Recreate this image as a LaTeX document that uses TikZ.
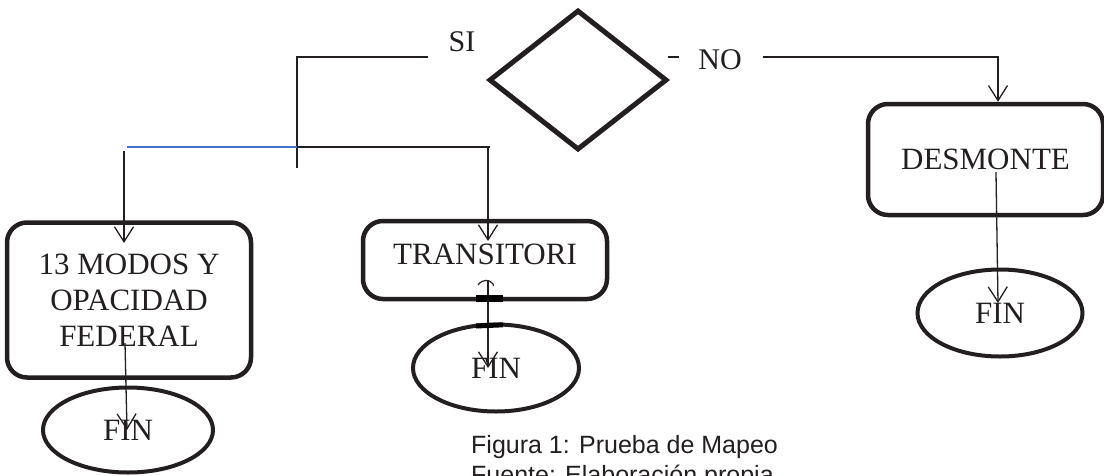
\documentclass[tikz,border=0pt]{standalone}
\usepackage{fontspec}
\setmainfont{Liberation Serif}
\newfontfamily\capfont{Liberation Sans}
\usetikzlibrary{shapes.geometric,arrows.meta}
\definecolor{busblue}{RGB}{68,114,196}
\definecolor{ink}{RGB}{35,31,32}
\begin{document}
\begin{tikzpicture}[x=1pt,y=-1pt,
  box/.style={draw=ink,line width=4.5pt,rounded corners=20pt,inner sep=0pt,text=ink,font=\fontsize{31}{36}\selectfont},
  finnode/.style={draw=ink,ellipse,line width=4pt,inner sep=0pt,text=ink,font=\fontsize{31}{36}\selectfont},
  conn/.style={draw=ink,line width=1.3pt},
  arr/.style={conn,-{Straight Barb[length=15pt,width=19pt,line width=1.3pt]}},
  lbl/.style={font=\fontsize{30}{36}\selectfont,inner sep=0pt,text=ink},
  caption/.style={font=\capfont\fontsize{25}{30}\selectfont,inner sep=0pt,text=ink,anchor=base west}]
\useasboundingbox (0,0) rectangle (1104,475);

% shapes
\node[draw=ink,diamond,line width=5pt,minimum width=178pt,minimum height=140pt,inner sep=0pt] (dec) at (578,80) {};
\node[box,align=center,minimum width=244pt,minimum height=155pt] (m13) at (129,300) {13 MODOS Y\\OPACIDAD\\FEDERAL};
\node[box,minimum width=244pt,minimum height=78pt,text depth=12pt] (tr) at (485,260) {TRANSITORI};
\node[box,minimum width=235pt,minimum height=111pt] (dm) at (985.5,159.5) {DESMONTE};
\node[finnode,minimum width=170pt,minimum height=85pt] (f1) at (128,430) {FIN};
\node[finnode,minimum width=166pt,minimum height=87pt] (f2) at (496,368) {FIN};
\node[finnode,minimum width=165pt,minimum height=87pt] (f3) at (1000,313) {FIN};

% labels
\node[lbl] (si) at (462,42) {SI};
\node[lbl] (no) at (720,60) {NO};
\node[caption] (cap1) at (471,453) {Figura 1: Prueba de Mapeo};
\node[caption] (cap2) at (471,483) {Fuente: Elaboración propia};

% SI branch
\coordinate (siA) at (428,57);
\coordinate (siB) at (297,57);
\coordinate (siC) at (297,168);
\draw[conn] (siA) -- (siB) -- (siC);
\coordinate (busL) at (127,147);
\coordinate (busM) at (297,147);
\coordinate (busR) at (490,147);
\draw[line width=1.3pt,busblue] (busL) -- (busM);
\draw[conn] (busM) -- (busR);
\coordinate (lA) at (124,151);
\coordinate (lB) at (124,243);
\draw[arr] (lA) -- (lB);
\coordinate (rA) at (488,147);
\coordinate (rB) at (488,241);
\draw[arr] (rA) -- (rB);

% NO branch
\coordinate (nd1) at (668,57);
\coordinate (nd2) at (679,57);
\draw[conn] (nd1) -- (nd2);
\coordinate (nA) at (763,57);
\coordinate (nB) at (998,57);
\draw[arr] (nA) -- (nB) -- (nB |- dm.north);

% to FIN
\coordinate (e1) at (125,343);
\coordinate (e1t) at (127,430);
\draw[arr] (e1) -- (e1t);
\coordinate (e2) at (488,280);
\coordinate (e2t) at (488,368);
\draw[arr] (e2) -- (e2t);
\coordinate (e3) at (996,172);
\coordinate (e3t) at (998,303);
\draw[arr] (e3) -- (e3t);

% small marks near TRANSITORI
\draw[line width=1.2pt,ink] (478,285) .. controls (482,279) and (490,279) .. (493,284) -- (493.5,286);
\draw[line width=6.5pt,black] (476,298.5) -- (503,298.5);
\draw[line width=5pt,black] (476,326) -- (503,324.8);
\end{tikzpicture}
\end{document}
